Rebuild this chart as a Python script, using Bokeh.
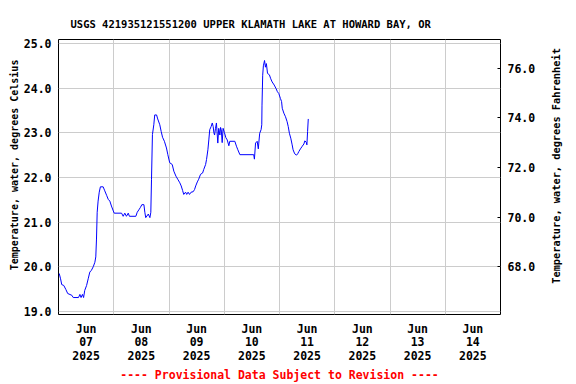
import math
import pandas as pd
from bokeh.plotting import figure
from bokeh.models import Range1d, LinearAxis, FixedTicker, NumeralTickFormatter
from bokeh.embed import file_html
from bokeh.resources import INLINE

chart_title = "USGS 421935121551200 UPPER KLAMATH LAKE AT HOWARD BAY, OR"
footer = "---- Provisional Data Subject to Revision ----"
left_label = "Temperature, water, degrees Celsius"
right_label = "Temperature, water, degrees Fahrenheit"

# hours since 2025-06-07 00:00 (local)
hours = [0.3, 0.9, 1.4, 2.3, 3.2, 4.0, 5.8, 6.4, 8.7, 9.3, 9.8, 10.4, 10.9, 11.4,
         12.2, 12.9, 13.6, 14.3, 15.1, 15.8, 16.2, 16.5, 16.8, 17.2, 17.7, 18.2,
         19.4, 20.1, 20.9, 21.6, 22.3, 23.0, 23.8, 24.2, 27.4, 28.1, 28.8, 29.5,
         30.3, 30.8, 33.6, 34.2, 35.1, 35.6, 36.2, 37.1, 37.5, 37.9, 39.0, 39.7,
         40.1, 40.4, 40.8, 41.4, 41.8, 42.6, 43.1, 44.0, 44.6, 45.2, 46.0, 46.9,
         47.5, 48.3, 49.4, 50.1, 51.0, 51.8, 52.7, 53.3, 53.9, 54.4, 55.2, 55.7,
         56.3, 56.9, 57.6, 58.5, 59.1, 59.6, 60.3, 60.9, 61.7, 62.6, 63.1, 63.9,
         64.3, 64.9, 65.3, 65.7, 66.3, 66.8, 67.2, 67.5, 67.8, 68.2, 68.6, 69.2,
         69.6, 70.1, 70.4, 70.7, 71.1, 71.5, 72.1, 72.7, 73.3, 74.0, 74.4, 76.6,
         77.3, 77.9, 78.8, 84.8, 85.1, 85.6, 86.3, 86.8, 87.0, 87.4, 88.0, 88.3,
         88.4, 88.7, 89.0, 89.5, 89.9, 90.3, 90.8, 91.6, 92.2, 92.8, 93.7, 94.5,
         95.1, 95.7, 96.4, 96.9, 97.2, 97.9, 98.6, 99.3, 99.8, 100.3, 100.9, 101.5,
         101.9, 102.6, 103.4, 103.9, 104.4, 105.1, 105.9, 106.6, 107.0, 107.6,
         107.9, 108.2, 108.5]
temp_c = [19.85, 19.73, 19.60, 19.58, 19.49, 19.40, 19.36, 19.31, 19.31, 19.38, 19.31,
          19.38, 19.31, 19.47, 19.58, 19.73, 19.88, 19.92, 20.00, 20.10, 20.22, 20.62,
          21.22, 21.47, 21.67, 21.79, 21.79, 21.70, 21.60, 21.51, 21.47, 21.36, 21.25,
          21.20, 21.20, 21.13, 21.20, 21.13, 21.20, 21.13, 21.13, 21.22, 21.29, 21.33,
          21.39, 21.39, 21.22, 21.10, 21.18, 21.10, 21.22, 21.96, 22.96, 23.18, 23.40,
          23.40, 23.31, 23.18, 23.03, 22.90, 22.81, 22.66, 22.51, 22.33, 22.29, 22.14,
          22.03, 21.96, 21.88, 21.81, 21.71, 21.62, 21.67, 21.62, 21.67, 21.62, 21.67,
          21.68, 21.73, 21.81, 21.90, 21.96, 22.07, 22.10, 22.18, 22.29, 22.40, 22.62,
          22.84, 23.07, 23.14, 23.22, 23.14, 23.00, 22.95, 23.10, 23.22, 22.77, 23.10,
          22.95, 23.12, 23.07, 22.78, 23.10, 23.00, 22.89, 22.84, 22.71, 22.81, 22.81,
          22.70, 22.62, 22.51, 22.51, 22.41, 22.77, 22.81, 22.64, 22.77, 22.99, 23.07,
          23.18, 23.62, 24.29, 24.50, 24.62, 24.47, 24.55, 24.33, 24.30, 24.21, 24.14,
          24.07, 23.99, 23.92, 23.88, 23.77, 23.70, 23.55, 23.44, 23.36, 23.25, 23.14,
          22.99, 22.88, 22.73, 22.62, 22.53, 22.50, 22.53, 22.58, 22.64, 22.70, 22.75,
          22.82, 22.79, 22.73, 23.03, 23.31]

day_labels = ["Jun\n07\n2025", "Jun\n08\n2025", "Jun\n09\n2025", "Jun\n10\n2025",
              "Jun\n11\n2025", "Jun\n12\n2025", "Jun\n13\n2025", "Jun\n14\n2025"]
c_ticks = [19, 20, 21, 22, 23, 24, 25]
f_ticks = [68, 70, 72, 74, 76]

days = [h / 24.0 for h in hours]
n_days = len(day_labels)
label_pos = [i + 0.5 for i in range(n_days)]
midnights = list(range(1, n_days))

y0, y1 = 18.93, 25.09
FONT = "DejaVu Sans Mono"
NB = "\u00a0"

p = figure(width=576, height=384, output_backend="svg", toolbar_location=None,
           x_range=Range1d(0, n_days), y_range=Range1d(y0, y1),
           min_border_left=58, min_border_right=76, min_border_top=39,
           min_border_bottom=68)
p.extra_y_ranges = {"F": Range1d(y0 * 1.8 + 32, y1 * 1.8 + 32)}
p.outline_line_color = "black"
p.outline_line_width = 1
p.background_fill_color = "white"
p.border_fill_color = "white"

p.title.text = chart_title
p.title.align = "left"
p.title.offset = 12
p.title.standoff = 19
p.title.text_font = FONT
p.title.text_font_size = "10.5px"
p.title.text_font_style = "bold"
p.title.text_color = "black"

p.line(days, temp_c, line_color="#0000ff", line_width=1)

# x axis (footer used as its axis label)
xa = p.xaxis[0]
xa.ticker = FixedTicker(ticks=label_pos)
xa.major_label_overrides = {pos: lab for pos, lab in zip(label_pos, day_labels)}
xa.major_tick_line_color = None
xa.minor_tick_line_color = None
xa.axis_line_color = None
xa.major_label_standoff = 1
xa.major_label_text_line_height = 0.97
xa.axis_label = footer
xa.axis_label_standoff = 2
p.xgrid.ticker = FixedTicker(ticks=midnights)

# left axis
ya = p.yaxis[0]
ya.ticker = FixedTicker(ticks=c_ticks)
ya.formatter = NumeralTickFormatter(format="0.0")
ya.axis_label = NB * 4 + left_label
ya.axis_line_color = None
ya.major_tick_in = 0
ya.major_tick_out = 0
ya.minor_tick_line_color = None
ya.major_label_standoff = 7
ya.axis_label_standoff = 1
p.ygrid.ticker = FixedTicker(ticks=c_ticks)

# right axis (Fahrenheit)
ra = LinearAxis(y_range_name="F", ticker=FixedTicker(ticks=f_ticks),
                formatter=NumeralTickFormatter(format="0.0"))
ra.axis_line_color = None
ra.major_tick_in = 3
ra.major_tick_out = 0
ra.major_tick_line_color = "black"
ra.minor_tick_line_color = None
ra.major_label_standoff = 7
p.add_layout(ra, "right")

# right-hand title, drawn as a single rotated tick label reading upwards
label_start = y0 + (316 - 285) / 277 * (y1 - y0)
rl = LinearAxis(ticker=FixedTicker(ticks=[label_start]))
rl.major_label_overrides = {label_start: right_label}
rl.major_label_orientation = math.pi / 2
rl.axis_line_color = None
rl.major_tick_line_color = None
rl.minor_tick_line_color = None
rl.major_label_standoff = 12
rl.major_label_text_font = FONT
rl.major_label_text_font_size = "10.3px"
rl.major_label_text_font_style = "bold"
rl.major_label_text_color = "black"
p.add_layout(rl, "right")

for ax in (xa, ya, ra):
    ax.major_label_text_font = FONT
    ax.major_label_text_font_size = "11.5px"
    ax.major_label_text_font_style = "bold"
    ax.major_label_text_color = "black"
    ax.axis_label_text_font = FONT
    ax.axis_label_text_font_size = "10px"
    ax.axis_label_text_font_style = "bold"
    ax.axis_label_text_color = "black"

xa.axis_label_text_font_size = "11.5px"
xa.axis_label_text_color = "#ff0000"

for g in (p.xgrid, p.ygrid):
    g.grid_line_color = "#cccccc"
    g.grid_line_width = 1

open("out.html", "w").write(file_html(p, INLINE))
